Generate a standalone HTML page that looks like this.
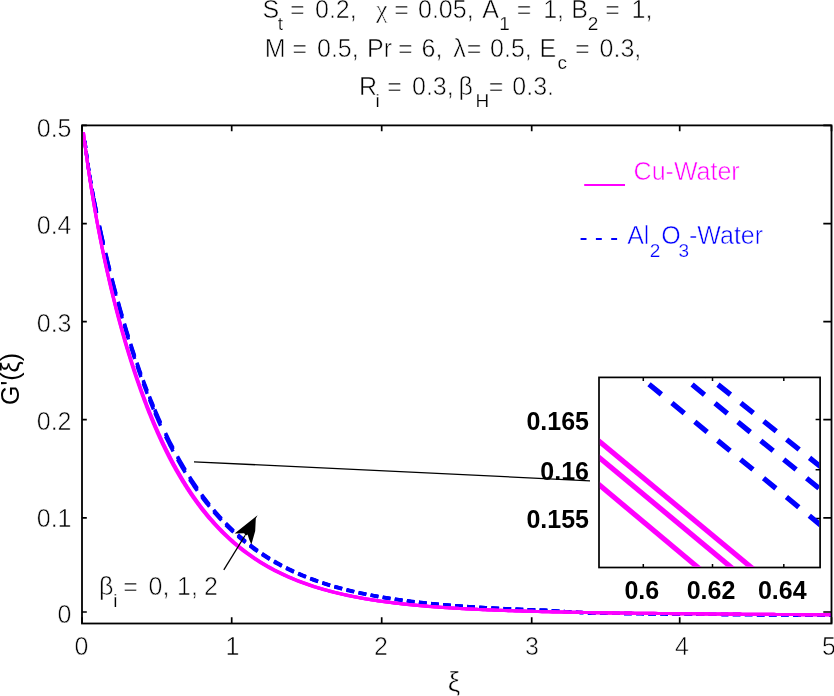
<!DOCTYPE html><html><head><meta charset="utf-8"><style>html,body{margin:0;padding:0;background:#fff;}svg{display:block}</style></head><body><svg width="834" height="696" viewBox="0 0 834 696">
<rect width="834" height="696" fill="#fff"/>
<defs><clipPath id="ax"><rect x="83" y="126.3" width="747.6" height="496.3"/></clipPath><clipPath id="ins"><rect x="599.9" y="378.2" width="219.3" height="188.5"/></clipPath></defs>
<g clip-path="url(#ax)" fill="none" stroke-linecap="butt" stroke-linejoin="round">
<path d="M84.88,141.10 L85.05,142.60 L85.22,144.06 L85.38,145.50 L85.55,146.91 L85.72,148.30M86.12,151.58 L86.31,153.09 L86.50,154.58 L86.70,156.04 L86.89,157.47 L87.08,158.88M87.71,163.35 L87.94,164.98 L88.18,166.59 L88.42,168.16 L88.66,169.72 L88.89,171.24M89.58,175.57 L89.87,177.33 L90.16,179.06 L90.44,180.78 L90.73,182.46 L91.02,184.13M92.02,189.74 L92.33,191.47 L92.64,193.17 L92.96,194.86 L93.27,196.53 L93.58,198.19M93.82,199.40 L94.37,202.27 L94.92,205.10 L95.48,207.89 L96.03,210.65 L96.58,213.37M99.45,227.04 L100.25,230.74 L101.05,234.39 L101.85,238.00 L102.65,241.57 L103.45,245.11M105.70,254.85 L106.50,258.24 L107.30,261.60 L108.10,264.93 L108.90,268.23 L109.70,271.49M111.95,280.49 L112.75,283.64 L113.55,286.75 L114.35,289.83 L115.15,292.89 L115.95,295.91M118.20,304.26 L119.00,307.17 L119.80,310.06 L120.60,312.92 L121.40,315.75 L122.20,318.56M124.45,326.30 L125.25,329.01 L126.05,331.68 L126.85,334.34 L127.65,336.96 L128.45,339.56M130.70,346.75 L131.50,349.26 L132.30,351.74 L133.10,354.20 L133.90,356.64 L134.70,359.06M136.95,365.72 L137.75,368.05 L138.55,370.35 L139.35,372.64 L140.15,374.90 L140.95,377.14M143.20,383.32 L144.00,385.48 L144.80,387.62 L145.60,389.74 L146.40,391.84 L147.20,393.92M149.45,399.66 L150.25,401.66 L151.05,403.64 L151.85,405.61 L152.65,407.56 L153.45,409.48M154.84,412.80 L155.99,415.48 L157.13,418.12 L158.27,420.72 L159.41,423.29 L160.56,425.82M165.51,436.43 L167.03,439.54 L168.54,442.60 L170.06,445.61 L171.57,448.56 L173.09,451.44M177.51,459.50 L179.05,462.22 L180.60,464.89 L182.14,467.52 L183.69,470.09 L185.23,472.62M189.58,479.50 L191.12,481.86 L192.67,484.17 L194.21,486.45 L195.76,488.68 L197.30,490.88M201.65,496.84 L203.19,498.88 L204.74,500.89 L206.28,502.87 L207.83,504.81 L209.37,506.71M213.72,511.88 L215.26,513.66 L216.81,515.40 L218.35,517.11 L219.90,518.79 L221.44,520.44M225.79,524.93 L227.33,526.47 L228.88,527.98 L230.42,529.47 L231.97,530.93 L233.51,532.36M237.86,536.26 L239.40,537.59 L240.95,538.91 L242.49,540.20 L244.04,541.46 L245.58,542.71M249.93,546.09 L251.47,547.25 L253.02,548.39 L254.56,549.51 L256.11,550.61 L257.65,551.69M262.00,554.62 L263.54,555.63 L265.09,556.62 L266.63,557.60 L268.18,558.55 L269.72,559.49M274.07,562.04 L275.61,562.92 L277.16,563.78 L278.70,564.62 L280.25,565.45 L281.79,566.27M286.14,568.48 L287.68,569.25 L289.23,569.99 L290.77,570.73 L292.32,571.45 L293.86,572.16M298.21,574.09 L299.75,574.75 L301.30,575.40 L302.84,576.04 L304.39,576.67 L305.93,577.28M310.28,578.96 L311.82,579.53 L313.37,580.10 L314.91,580.66 L316.46,581.20 L318.00,581.74M322.35,583.20 L323.89,583.70 L325.44,584.19 L326.98,584.68 L328.53,585.15 L330.07,585.62M334.42,586.89 L335.96,587.33 L337.51,587.76 L339.05,588.18 L340.60,588.59 L342.14,589.00M346.49,590.11 L348.03,590.49 L349.58,590.86 L351.12,591.23 L352.67,591.59 L354.21,591.95M358.56,592.91 L360.10,593.25 L361.65,593.57 L363.19,593.89 L364.74,594.21 L366.28,594.52M370.63,595.36 L372.17,595.65 L373.72,595.94 L375.26,596.22 L376.81,596.49 L378.35,596.77M382.70,597.50 L384.24,597.76 L385.79,598.01 L387.33,598.25 L388.88,598.49 L390.42,598.73M394.77,599.37 L396.31,599.60 L397.86,599.81 L399.40,600.03 L400.95,600.24 L402.49,600.45M406.84,601.01 L408.38,601.21 L409.93,601.40 L411.47,601.59 L413.02,601.77 L414.56,601.95M418.91,602.45 L420.45,602.62 L422.00,602.79 L423.54,602.95 L425.09,603.11 L426.63,603.27M430.98,603.71 L432.52,603.86 L434.07,604.01 L435.61,604.15 L437.16,604.29 L438.70,604.43M443.05,604.82 L444.59,604.95 L446.14,605.08 L447.68,605.21 L449.23,605.33 L450.77,605.46M455.12,605.79 L456.66,605.91 L458.21,606.03 L459.75,606.14 L461.30,606.25 L462.84,606.36M467.19,606.66 L468.73,606.76 L470.28,606.86 L471.82,606.96 L473.37,607.06 L474.91,607.15M479.26,607.42 L480.80,607.51 L482.35,607.60 L483.89,607.69 L485.44,607.77 L486.98,607.86M491.33,608.09 L492.87,608.17 L494.42,608.25 L495.96,608.33 L497.51,608.41 L499.05,608.49M503.40,608.69 L504.94,608.77 L506.49,608.84 L508.03,608.91 L509.58,608.98 L511.12,609.04M515.47,609.23 L517.01,609.29 L518.56,609.36 L520.10,609.42 L521.65,609.48 L523.19,609.54M527.54,609.71 L529.08,609.76 L530.63,609.82 L532.17,609.88 L533.72,609.93 L535.26,609.98M539.61,610.13 L541.15,610.18 L542.70,610.24 L544.24,610.29 L545.79,610.37 L547.33,610.48M551.68,610.78 L553.22,610.88 L554.77,610.98 L556.31,611.08 L557.86,611.18 L559.40,611.28M563.75,611.55 L565.29,611.65 L566.84,611.74 L568.38,611.83 L569.93,611.92 L571.47,612.01M575.82,612.25 L577.36,612.33 L578.91,612.42 L580.45,612.50 L582.00,612.58 L583.54,612.66M587.89,612.88 L589.43,612.96 L590.98,613.00 L592.52,613.02 L594.07,613.05 L595.61,613.07M599.96,613.14 L601.50,613.16 L603.05,613.18 L604.59,613.20 L606.14,613.23 L607.68,613.25M612.03,613.31 L613.57,613.33 L615.12,613.35 L616.66,613.37 L618.21,613.39 L619.75,613.41M624.10,613.47 L625.64,613.49 L627.19,613.50 L628.73,613.52 L630.28,613.54 L631.82,613.56M636.17,613.61 L637.71,613.63 L639.26,613.65 L640.80,613.67 L642.35,613.68 L643.89,613.70M648.24,613.75 L649.78,613.77 L651.33,613.78 L652.87,613.80 L654.42,613.81 L655.96,613.83M660.31,613.88 L661.85,613.89 L663.40,613.91 L664.94,613.92 L666.49,613.94 L668.03,613.95M672.38,613.99 L673.92,614.01 L675.47,614.02 L677.01,614.04 L678.56,614.05 L680.10,614.07M684.45,614.11 L685.99,614.12 L687.54,614.14 L689.08,614.15 L690.63,614.16 L692.17,614.18M696.52,614.21 L698.06,614.23 L699.61,614.24 L701.15,614.25 L702.70,614.27 L704.24,614.28M708.59,614.32 L710.13,614.33 L711.68,614.34 L713.22,614.35 L714.77,614.37 L716.31,614.38M720.66,614.41 L722.20,614.43 L723.75,614.44 L725.29,614.45 L726.84,614.46 L728.38,614.48M732.73,614.51 L734.27,614.52 L735.82,614.53 L737.36,614.54 L738.91,614.56 L740.45,614.57M744.80,614.60 L746.34,614.61 L747.89,614.62 L749.43,614.64 L750.98,614.65 L752.52,614.66M756.87,614.69 L758.41,614.70 L759.96,614.71 L761.50,614.72 L763.05,614.73 L764.59,614.75M768.94,614.78 L770.48,614.79 L772.03,614.80 L773.57,614.81 L775.12,614.82 L776.66,614.83M781.01,614.86 L782.55,614.87 L784.10,614.88 L785.64,614.89 L787.19,614.90 L788.73,614.91M793.08,614.94 L794.62,614.95 L796.17,614.96 L797.71,614.97 L799.26,614.98 L800.80,614.99M805.15,615.02 L806.69,615.03 L808.24,615.04 L809.78,615.05 L811.33,615.06 L812.87,615.07M817.22,615.10 L818.76,615.11 L820.31,615.12 L821.85,615.13 L823.40,615.14 L824.94,615.15M829.29,615.18 L830.83,615.19 L832.38,615.20 L833.92,615.21 L835.47,615.22 L837.01,615.23M841.36,615.26 L842.90,615.27 L844.45,615.28 L845.99,615.29 L847.54,615.30 L849.08,615.31" stroke="#0000ff" stroke-width="3.4"/>
<path d="M84.88,140.91 L85.05,142.39 L85.22,143.84 L85.38,145.27 L85.55,146.67 L85.72,148.05M86.12,151.30 L86.31,152.80 L86.50,154.28 L86.70,155.72 L86.89,157.15 L87.08,158.55M87.71,162.98 L87.94,164.60 L88.18,166.19 L88.42,167.75 L88.66,169.29 L88.89,170.80M89.58,175.09 L89.87,176.83 L90.16,178.55 L90.44,180.25 L90.73,181.92 L91.02,183.57M92.02,189.13 L92.33,190.83 L92.64,192.52 L92.96,194.19 L93.27,195.85 L93.58,197.49M93.82,198.69 L94.37,201.53 L94.92,204.33 L95.48,207.10 L96.03,209.83 L96.58,212.53M99.45,226.06 L100.25,229.72 L101.05,233.34 L101.85,236.92 L102.65,240.46 L103.45,243.96M105.70,253.61 L106.50,256.98 L107.30,260.31 L108.10,263.61 L108.90,266.87 L109.70,270.11M111.95,279.04 L112.75,282.16 L113.55,285.25 L114.35,288.31 L115.15,291.34 L115.95,294.34M118.20,302.63 L119.00,305.52 L119.80,308.39 L120.60,311.23 L121.40,314.04 L122.20,316.83M124.45,324.52 L125.25,327.21 L126.05,329.87 L126.85,332.51 L127.65,335.12 L128.45,337.71M130.70,344.85 L131.50,347.35 L132.30,349.82 L133.10,352.27 L133.90,354.69 L134.70,357.10M136.95,363.73 L137.75,366.05 L138.55,368.34 L139.35,370.62 L140.15,372.87 L140.95,375.10M143.20,381.26 L144.00,383.41 L144.80,385.55 L145.60,387.66 L146.40,389.75 L147.20,391.82M149.45,397.54 L150.25,399.54 L151.05,401.52 L151.85,403.48 L152.65,405.42 L153.45,407.35M154.84,410.66 L155.99,413.33 L157.13,415.96 L158.27,418.56 L159.41,421.13 L160.56,423.66M165.51,434.25 L167.03,437.37 L168.54,440.43 L170.06,443.43 L171.57,446.39 L173.09,449.29M177.51,457.46 L179.05,460.22 L180.60,462.92 L182.14,465.58 L183.69,468.19 L185.23,470.76M189.58,477.72 L191.12,480.11 L192.67,482.46 L194.21,484.76 L195.76,487.03 L197.30,489.25M201.65,495.29 L203.19,497.36 L204.74,499.40 L206.28,501.40 L207.83,503.36 L209.37,505.29M213.72,510.53 L215.26,512.33 L216.81,514.09 L218.35,515.83 L219.90,517.53 L221.44,519.20M225.79,523.75 L227.33,525.31 L228.88,526.84 L230.42,528.35 L231.97,529.83 L233.51,531.28M237.86,535.23 L239.40,536.58 L240.95,537.91 L242.49,539.22 L244.04,540.50 L245.58,541.76M249.93,545.19 L251.47,546.36 L253.02,547.52 L254.56,548.65 L256.11,549.77 L257.65,550.86M262.00,553.84 L263.54,554.86 L265.09,555.86 L266.63,556.85 L268.18,557.81 L269.72,558.77M274.07,561.35 L275.61,562.24 L277.16,563.11 L278.70,563.97 L280.25,564.81 L281.79,565.63M286.14,567.88 L287.68,568.65 L289.23,569.41 L290.77,570.15 L292.32,570.88 L293.86,571.60M298.21,573.55 L299.75,574.22 L301.30,574.88 L302.84,575.53 L304.39,576.17 L305.93,576.79M310.28,578.49 L311.82,579.07 L313.37,579.65 L314.91,580.21 L316.46,580.76 L318.00,581.31M322.35,582.79 L323.89,583.29 L325.44,583.79 L326.98,584.28 L328.53,584.77 L330.07,585.24M334.42,586.53 L335.96,586.97 L337.51,587.41 L339.05,587.83 L340.60,588.25 L342.14,588.66M346.49,589.79 L348.03,590.17 L349.58,590.55 L351.12,590.93 L352.67,591.29 L354.21,591.65M358.56,592.63 L360.10,592.97 L361.65,593.30 L363.19,593.62 L364.74,593.94 L366.28,594.26M370.63,595.11 L372.17,595.41 L373.72,595.69 L375.26,595.98 L376.81,596.26 L378.35,596.53M382.70,597.28 L384.24,597.54 L385.79,597.79 L387.33,598.04 L388.88,598.28 L390.42,598.52M394.77,599.17 L396.31,599.40 L397.86,599.62 L399.40,599.84 L400.95,600.05 L402.49,600.26M406.84,600.83 L408.38,601.03 L409.93,601.22 L411.47,601.42 L413.02,601.60 L414.56,601.79M418.91,602.29 L420.45,602.46 L422.00,602.63 L423.54,602.80 L425.09,602.96 L426.63,603.13M430.98,603.57 L432.52,603.72 L434.07,603.87 L435.61,604.02 L437.16,604.16 L438.70,604.30M443.05,604.69 L444.59,604.82 L446.14,604.96 L447.68,605.08 L449.23,605.21 L450.77,605.34M455.12,605.68 L456.66,605.80 L458.21,605.91 L459.75,606.03 L461.30,606.14 L462.84,606.25M467.19,606.55 L468.73,606.66 L470.28,606.76 L471.82,606.86 L473.37,606.96 L474.91,607.06M479.26,607.33 L480.80,607.42 L482.35,607.51 L483.89,607.60 L485.44,607.69 L486.98,607.77M491.33,608.01 L492.87,608.09 L494.42,608.17 L495.96,608.25 L497.51,608.33 L499.05,608.41M503.40,608.62 L504.94,608.69 L506.49,608.76 L508.03,608.83 L509.58,608.90 L511.12,608.97M515.47,609.16 L517.01,609.22 L518.56,609.29 L520.10,609.35 L521.65,609.41 L523.19,609.47M527.54,609.64 L529.08,609.70 L530.63,609.76 L532.17,609.81 L533.72,609.87 L535.26,609.93M539.61,610.08 L541.15,610.13 L542.70,610.18 L544.24,610.23 L545.79,610.31 L547.33,610.42M551.68,610.73 L553.22,610.83 L554.77,610.94 L556.31,611.04 L557.86,611.14 L559.40,611.24M563.75,611.51 L565.29,611.61 L566.84,611.70 L568.38,611.79 L569.93,611.88 L571.47,611.97M575.82,612.22 L577.36,612.31 L578.91,612.39 L580.45,612.47 L582.00,612.55 L583.54,612.64M587.89,612.86 L589.43,612.94 L590.98,612.98 L592.52,613.00 L594.07,613.03 L595.61,613.05M599.96,613.12 L601.50,613.14 L603.05,613.16 L604.59,613.19 L606.14,613.21 L607.68,613.23M612.03,613.29 L613.57,613.31 L615.12,613.34 L616.66,613.36 L618.21,613.38 L619.75,613.40M624.10,613.45 L625.64,613.47 L627.19,613.49 L628.73,613.51 L630.28,613.53 L631.82,613.55M636.17,613.60 L637.71,613.62 L639.26,613.64 L640.80,613.65 L642.35,613.67 L643.89,613.69M648.24,613.74 L649.78,613.76 L651.33,613.77 L652.87,613.79 L654.42,613.81 L655.96,613.82M660.31,613.87 L661.85,613.88 L663.40,613.90 L664.94,613.91 L666.49,613.93 L668.03,613.95M672.38,613.99 L673.92,614.00 L675.47,614.02 L677.01,614.03 L678.56,614.05 L680.10,614.06M684.45,614.10 L685.99,614.12 L687.54,614.13 L689.08,614.14 L690.63,614.16 L692.17,614.17M696.52,614.21 L698.06,614.22 L699.61,614.24 L701.15,614.25 L702.70,614.26 L704.24,614.28M708.59,614.31 L710.13,614.33 L711.68,614.34 L713.22,614.35 L714.77,614.37 L716.31,614.38M720.66,614.41 L722.20,614.43 L723.75,614.44 L725.29,614.45 L726.84,614.46 L728.38,614.48M732.73,614.51 L734.27,614.52 L735.82,614.53 L737.36,614.54 L738.91,614.56 L740.45,614.57M744.80,614.60 L746.34,614.61 L747.89,614.62 L749.43,614.64 L750.98,614.65 L752.52,614.66M756.87,614.69 L758.41,614.70 L759.96,614.71 L761.50,614.72 L763.05,614.73 L764.59,614.75M768.94,614.78 L770.48,614.79 L772.03,614.80 L773.57,614.81 L775.12,614.82 L776.66,614.83M781.01,614.86 L782.55,614.87 L784.10,614.88 L785.64,614.89 L787.19,614.90 L788.73,614.91M793.08,614.94 L794.62,614.95 L796.17,614.96 L797.71,614.97 L799.26,614.98 L800.80,614.99M805.15,615.02 L806.69,615.03 L808.24,615.04 L809.78,615.05 L811.33,615.06 L812.87,615.07M817.22,615.10 L818.76,615.11 L820.31,615.12 L821.85,615.13 L823.40,615.14 L824.94,615.15M829.29,615.18 L830.83,615.19 L832.38,615.20 L833.92,615.21 L835.47,615.22 L837.01,615.23M841.36,615.26 L842.90,615.27 L844.45,615.28 L845.99,615.29 L847.54,615.30 L849.08,615.31" stroke="#0000ff" stroke-width="3.4"/>
<path d="M84.88,140.79 L85.05,142.27 L85.22,143.72 L85.38,145.14 L85.55,146.53 L85.72,147.91M86.12,151.14 L86.31,152.64 L86.50,154.10 L86.70,155.54 L86.89,156.96 L87.08,158.36M87.71,162.76 L87.94,164.37 L88.18,165.95 L88.42,167.51 L88.66,169.04 L88.89,170.55M89.58,174.81 L89.87,176.55 L90.16,178.25 L90.44,179.94 L90.73,181.60 L91.02,183.24M92.02,188.77 L92.33,190.47 L92.64,192.15 L92.96,193.81 L93.27,195.46 L93.58,197.09M93.82,198.28 L94.37,201.11 L94.92,203.89 L95.48,206.64 L96.03,209.35 L96.58,212.04M99.45,225.49 L100.25,229.14 L101.05,232.74 L101.85,236.30 L102.65,239.82 L103.45,243.30M105.70,252.90 L106.50,256.25 L107.30,259.56 L108.10,262.84 L108.90,266.10 L109.70,269.31M111.95,278.21 L112.75,281.31 L113.55,284.38 L114.35,287.43 L115.15,290.45 L115.95,293.43M118.20,301.69 L119.00,304.57 L119.80,307.42 L120.60,310.25 L121.40,313.05 L122.20,315.83M124.45,323.50 L125.25,326.17 L126.05,328.83 L126.85,331.45 L127.65,334.06 L128.45,336.64M130.70,343.76 L131.50,346.25 L132.30,348.71 L133.10,351.15 L133.90,353.57 L134.70,355.97M136.95,362.58 L137.75,364.89 L138.55,367.18 L139.35,369.45 L140.15,371.70 L140.95,373.92M143.20,380.07 L144.00,382.22 L144.80,384.35 L145.60,386.45 L146.40,388.54 L147.20,390.61M149.45,396.32 L150.25,398.32 L151.05,400.29 L151.85,402.25 L152.65,404.19 L153.45,406.11M154.84,409.42 L155.99,412.09 L157.13,414.72 L158.27,417.32 L159.41,419.88 L160.56,422.41M165.51,433.00 L167.03,436.11 L168.54,439.17 L170.06,442.18 L171.57,445.13 L173.09,448.05M177.51,456.28 L179.05,459.06 L180.60,461.79 L182.14,464.47 L183.69,467.09 L185.23,469.68M189.58,476.69 L191.12,479.10 L192.67,481.47 L194.21,483.79 L195.76,486.07 L197.30,488.31M201.65,494.39 L203.19,496.48 L204.74,498.53 L206.28,500.55 L207.83,502.53 L209.37,504.47M213.72,509.75 L215.26,511.56 L216.81,513.34 L218.35,515.09 L219.90,516.80 L221.44,518.49M225.79,523.07 L227.33,524.64 L228.88,526.19 L230.42,527.70 L231.97,529.19 L233.51,530.66M237.86,534.63 L239.40,536.00 L240.95,537.34 L242.49,538.65 L244.04,539.95 L245.58,541.22M249.93,544.67 L251.47,545.85 L253.02,547.02 L254.56,548.16 L256.11,549.28 L257.65,550.38M262.00,553.38 L263.54,554.41 L265.09,555.42 L266.63,556.41 L268.18,557.39 L269.72,558.35M274.07,560.95 L275.61,561.84 L277.16,562.72 L278.70,563.59 L280.25,564.43 L281.79,565.27M286.14,567.53 L287.68,568.31 L289.23,569.07 L290.77,569.82 L292.32,570.56 L293.86,571.28M298.21,573.25 L299.75,573.92 L301.30,574.59 L302.84,575.24 L304.39,575.88 L305.93,576.51M310.28,578.22 L311.82,578.81 L313.37,579.39 L314.91,579.95 L316.46,580.51 L318.00,581.06M322.35,582.55 L323.89,583.06 L325.44,583.56 L326.98,584.06 L328.53,584.54 L330.07,585.02M334.42,586.32 L335.96,586.76 L337.51,587.20 L339.05,587.63 L340.60,588.06 L342.14,588.47M346.49,589.60 L348.03,589.99 L349.58,590.37 L351.12,590.75 L352.67,591.12 L354.21,591.48M358.56,592.47 L360.10,592.81 L361.65,593.14 L363.19,593.47 L364.74,593.79 L366.28,594.10M370.63,594.97 L372.17,595.26 L373.72,595.55 L375.26,595.84 L376.81,596.12 L378.35,596.40M382.70,597.15 L384.24,597.41 L385.79,597.66 L387.33,597.91 L388.88,598.16 L390.42,598.40M394.77,599.06 L396.31,599.29 L397.86,599.51 L399.40,599.73 L400.95,599.94 L402.49,600.15M406.84,600.73 L408.38,600.93 L409.93,601.13 L411.47,601.32 L413.02,601.51 L414.56,601.69M418.91,602.20 L420.45,602.37 L422.00,602.54 L423.54,602.71 L425.09,602.88 L426.63,603.04M430.98,603.48 L432.52,603.64 L434.07,603.79 L435.61,603.94 L437.16,604.08 L438.70,604.23M443.05,604.62 L444.59,604.75 L446.14,604.88 L447.68,605.01 L449.23,605.14 L450.77,605.27M455.12,605.61 L456.66,605.73 L458.21,605.85 L459.75,605.96 L461.30,606.08 L462.84,606.19M467.19,606.49 L468.73,606.60 L470.28,606.70 L471.82,606.80 L473.37,606.90 L474.91,607.00M479.26,607.27 L480.80,607.36 L482.35,607.46 L483.89,607.55 L485.44,607.63 L486.98,607.72M491.33,607.96 L492.87,608.04 L494.42,608.12 L495.96,608.20 L497.51,608.28 L499.05,608.36M503.40,608.57 L504.94,608.65 L506.49,608.72 L508.03,608.79 L509.58,608.86 L511.12,608.93M515.47,609.12 L517.01,609.18 L518.56,609.25 L520.10,609.31 L521.65,609.38 L523.19,609.44M527.54,609.61 L529.08,609.66 L530.63,609.72 L532.17,609.78 L533.72,609.84 L535.26,609.89M539.61,610.04 L541.15,610.10 L542.70,610.15 L544.24,610.20 L545.79,610.28 L547.33,610.39M551.68,610.70 L553.22,610.81 L554.77,610.91 L556.31,611.01 L557.86,611.12 L559.40,611.22M563.75,611.49 L565.29,611.59 L566.84,611.68 L568.38,611.77 L569.93,611.86 L571.47,611.95M575.82,612.20 L577.36,612.29 L578.91,612.37 L580.45,612.46 L582.00,612.54 L583.54,612.62M587.89,612.85 L589.43,612.92 L590.98,612.97 L592.52,612.99 L594.07,613.02 L595.61,613.04M599.96,613.11 L601.50,613.13 L603.05,613.15 L604.59,613.18 L606.14,613.20 L607.68,613.22M612.03,613.28 L613.57,613.31 L615.12,613.33 L616.66,613.35 L618.21,613.37 L619.75,613.39M624.10,613.45 L625.64,613.46 L627.19,613.48 L628.73,613.50 L630.28,613.52 L631.82,613.54M636.17,613.59 L637.71,613.61 L639.26,613.63 L640.80,613.65 L642.35,613.67 L643.89,613.68M648.24,613.73 L649.78,613.75 L651.33,613.77 L652.87,613.78 L654.42,613.80 L655.96,613.82M660.31,613.86 L661.85,613.88 L663.40,613.89 L664.94,613.91 L666.49,613.93 L668.03,613.94M672.38,613.98 L673.92,614.00 L675.47,614.01 L677.01,614.03 L678.56,614.04 L680.10,614.06M684.45,614.10 L685.99,614.11 L687.54,614.13 L689.08,614.14 L690.63,614.16 L692.17,614.17M696.52,614.21 L698.06,614.22 L699.61,614.24 L701.15,614.25 L702.70,614.26 L704.24,614.28M708.59,614.31 L710.13,614.33 L711.68,614.34 L713.22,614.35 L714.77,614.36 L716.31,614.38M720.66,614.41 L722.20,614.43 L723.75,614.44 L725.29,614.45 L726.84,614.46 L728.38,614.47M732.73,614.51 L734.27,614.52 L735.82,614.53 L737.36,614.54 L738.91,614.56 L740.45,614.57M744.80,614.60 L746.34,614.61 L747.89,614.62 L749.43,614.64 L750.98,614.65 L752.52,614.66M756.87,614.69 L758.41,614.70 L759.96,614.71 L761.50,614.72 L763.05,614.73 L764.59,614.75M768.94,614.78 L770.48,614.79 L772.03,614.80 L773.57,614.81 L775.12,614.82 L776.66,614.83M781.01,614.86 L782.55,614.87 L784.10,614.88 L785.64,614.89 L787.19,614.90 L788.73,614.91M793.08,614.94 L794.62,614.95 L796.17,614.96 L797.71,614.97 L799.26,614.98 L800.80,614.99M805.15,615.02 L806.69,615.03 L808.24,615.04 L809.78,615.05 L811.33,615.06 L812.87,615.07M817.22,615.10 L818.76,615.11 L820.31,615.12 L821.85,615.13 L823.40,615.14 L824.94,615.15M829.29,615.18 L830.83,615.19 L832.38,615.20 L833.92,615.21 L835.47,615.22 L837.01,615.23M841.36,615.26 L842.90,615.27 L844.45,615.28 L845.99,615.29 L847.54,615.30 L849.08,615.31" stroke="#0000ff" stroke-width="3.4"/>
<path d="M83.40,132.21 L83.69,134.59 L83.98,136.95 L84.28,139.29 L84.57,141.59 L84.86,143.88 L85.15,146.13 L85.45,148.37 L85.74,150.57 L86.03,152.76 L86.32,154.93 L86.61,157.07 L86.91,159.19 L87.20,161.29 L87.49,163.37 L87.78,165.42 L88.08,167.46 L88.37,169.48 L88.66,171.48 L88.95,173.47 L89.24,175.43 L89.54,177.38 L89.83,179.31 L90.12,181.22 L90.41,183.12 L90.71,185.00 L91.00,186.86 L91.29,188.71 L91.58,190.55 L91.87,192.36 L92.17,194.17 L92.46,195.96 L92.75,197.74 L93.04,199.50 L93.34,201.25 L93.63,202.98 L93.92,204.70 L94.21,206.41 L94.50,208.11 L94.80,209.80 L95.09,211.47 L95.38,213.13 L95.67,214.78 L95.97,216.42 L96.26,218.05 L96.55,219.66 L96.84,221.27 L97.13,222.86 L97.43,224.45 L97.72,226.02 L98.01,227.58 L98.30,229.14 L98.60,230.68 L98.89,232.22 L99.18,233.74 L99.47,235.26 L99.76,236.76 L100.06,238.26 L100.35,239.75 L100.64,241.23 L100.93,242.70 L101.23,244.16 L101.52,245.62 L101.81,247.06 L102.10,248.50 L102.39,249.93 L102.69,251.35 L102.98,252.77 L103.27,254.17 L103.56,255.57 L103.86,256.96 L104.15,258.35 L104.44,259.72 L104.73,261.09 L105.03,262.45 L105.32,263.81 L105.61,265.16 L105.90,266.50 L106.19,267.83 L106.49,269.16 L106.78,270.48 L107.07,271.80 L107.36,273.10 L107.66,274.40 L107.95,275.70 L108.24,276.99 L108.53,278.27 L108.82,279.55 L109.12,280.82 L109.41,282.08 L109.70,283.34 L109.99,284.60 L110.29,285.84 L110.58,287.08 L110.87,288.32 L111.16,289.55 L111.45,290.77 L111.75,291.99 L112.04,293.20 L112.33,294.41 L112.62,295.61 L112.92,296.81 L113.21,298.00 L113.50,299.19 L113.79,300.37 L114.08,301.55 L114.38,302.72 L114.67,303.88 L114.96,305.04 L115.25,306.20 L115.55,307.35 L115.84,308.50 L116.13,309.64 L116.42,310.77 L116.71,311.90 L117.01,313.03 L117.30,314.15 L117.59,315.27 L117.88,316.38 L118.18,317.49 L118.47,318.59 L118.76,319.69 L119.05,320.78 L119.34,321.87 L119.64,322.96 L119.93,324.04 L120.22,325.11 L120.51,326.19 L120.81,327.25 L121.10,328.32 L121.39,329.37 L121.68,330.43 L121.97,331.48 L122.27,332.53 L122.56,333.57 L122.85,334.60 L123.14,335.64 L123.44,336.67 L123.73,337.69 L124.02,338.71 L124.31,339.73 L124.60,340.74 L124.90,341.75 L125.19,342.76 L125.48,343.76 L125.77,344.76 L126.07,345.75 L126.36,346.74 L126.65,347.72 L126.94,348.70 L127.23,349.68 L127.53,350.66 L127.82,351.63 L128.11,352.59 L128.40,353.56 L128.70,354.51 L128.99,355.47 L129.28,356.42 L129.57,357.37 L129.86,358.31 L130.16,359.25 L130.45,360.19 L130.74,361.12 L131.03,362.05 L131.33,362.98 L131.62,363.90 L131.91,364.82 L132.20,365.74 L132.49,366.65 L132.79,367.56 L133.08,368.46 L133.37,369.36 L133.66,370.26 L133.96,371.15 L134.25,372.05 L134.54,372.93 L134.83,373.82 L135.12,374.70 L135.42,375.58 L135.71,376.45 L136.00,377.32 L136.29,378.19 L136.59,379.06 L136.88,379.92 L137.17,380.77 L137.46,381.63 L137.75,382.48 L138.05,383.33 L138.34,384.17 L138.63,385.02 L138.92,385.86 L139.22,386.69 L139.51,387.52 L139.80,388.35 L140.09,389.18 L140.38,390.00 L140.68,390.82 L140.97,391.64 L141.26,392.45 L141.55,393.26 L141.85,394.07 L142.14,394.88 L142.43,395.68 L142.72,396.48 L143.02,397.27 L143.31,398.07 L143.60,398.86 L143.89,399.64 L144.18,400.43 L144.48,401.21 L144.77,401.98 L145.06,402.76 L145.35,403.53 L145.65,404.30 L145.94,405.07 L146.23,405.83 L146.52,406.59 L146.81,407.35 L147.11,408.11 L147.40,408.86 L147.69,409.61 L147.98,410.35 L148.28,411.10 L148.57,411.84 L148.86,412.58 L149.15,413.31 L149.44,414.05 L149.74,414.78 L150.03,415.50 L150.32,416.23 L150.61,416.95 L150.91,417.67 L151.20,418.39 L151.49,419.10 L151.78,419.81 L152.07,420.52 L152.37,421.23 L152.66,421.93 L152.95,422.63 L153.24,423.33 L153.54,424.03 L153.83,424.72 L154.12,425.41 L154.41,426.10 L154.70,426.78 L155.00,427.47 L155.29,428.15 L155.58,428.82 L155.87,429.50 L156.17,430.17 L156.46,430.84 L156.75,431.51 L157.04,432.17 L157.33,432.84 L157.63,433.50 L157.92,434.16 L158.21,434.81 L158.50,435.46 L158.80,436.12 L159.09,436.76 L159.38,437.41 L159.67,438.05 L159.96,438.69 L160.26,439.33 L160.55,439.97 L160.84,440.60 L161.13,441.23 L161.43,441.86 L161.72,442.49 L162.01,443.12 L162.30,443.74 L162.59,444.36 L162.89,444.98 L163.18,445.59 L163.47,446.20 L163.76,446.82 L164.06,447.42 L164.35,448.03 L164.64,448.63 L164.93,449.24 L165.22,449.84 L165.52,450.43 L165.81,451.03 L166.10,451.62 L166.39,452.21 L166.69,452.80 L166.98,453.39 L167.27,453.97 L167.56,454.55 L167.85,455.13 L168.15,455.71 L168.44,456.29 L168.73,456.86 L169.02,457.43 L169.32,458.00 L169.61,458.57 L169.90,459.14 L170.19,459.70 L170.48,460.26 L170.78,460.82 L171.07,461.38 L171.36,461.93 L171.65,462.48 L171.95,463.03 L172.24,463.58 L172.53,464.12 L172.82,464.66 L173.11,465.20 L173.41,465.73 L173.70,466.26 L173.99,466.80 L174.28,467.33 L174.58,467.85 L174.87,468.38 L175.16,468.90 L175.45,469.42 L175.74,469.94 L176.04,470.46 L176.33,470.98 L176.62,471.49 L176.91,472.01 L177.21,472.52 L177.50,473.02 L177.79,473.53 L178.08,474.04 L178.37,474.54 L178.67,475.04 L178.96,475.54 L179.25,476.04 L179.54,476.53 L179.84,477.03 L180.13,477.52 L180.42,478.01 L180.71,478.50 L181.01,478.98 L181.30,479.47 L181.59,479.95 L181.88,480.43 L182.17,480.91 L182.47,481.39 L182.76,481.87 L183.05,482.34 L183.34,482.81 L183.64,483.28 L183.93,483.75 L184.22,484.22 L184.51,484.69 L184.80,485.15 L185.10,485.61 L185.39,486.07 L185.68,486.53 L185.97,486.99 L186.27,487.45 L186.56,487.90 L186.85,488.35 L187.14,488.80 L187.43,489.25 L187.73,489.70 L188.02,490.15 L188.31,490.59 L188.60,491.03 L188.90,491.47 L189.19,491.91 L189.48,492.35 L189.77,492.79 L190.06,493.22 L190.36,493.65 L190.65,494.09 L190.94,494.51 L191.23,494.94 L191.53,495.37 L191.82,495.79 L192.11,496.22 L192.40,496.64 L192.69,497.06 L192.99,497.48 L193.28,497.90 L193.57,498.31 L193.86,498.73 L194.16,499.14 L194.45,499.55 L194.74,499.96 L195.03,500.37 L195.32,500.78 L195.62,501.18 L195.91,501.59 L196.20,501.99 L196.49,502.39 L196.79,502.79 L197.08,503.19 L197.37,503.58 L197.66,503.98 L197.95,504.37 L198.25,504.76 L198.54,505.15 L198.83,505.54 L199.12,505.93 L199.42,506.32 L199.71,506.70 L200.00,507.09 L200.50,507.74 L202.61,510.45 L204.72,513.09 L206.83,515.66 L208.93,518.16 L211.04,520.60 L213.15,522.98 L215.26,525.29 L217.37,527.55 L219.48,529.74 L221.59,531.88 L223.70,533.96 L225.80,535.99 L227.91,537.96 L230.02,539.89 L232.13,541.76 L234.24,543.59 L236.35,545.37 L238.46,547.10 L240.57,548.79 L242.67,550.43 L244.78,552.03 L246.89,553.59 L249.00,555.11 L251.11,556.59 L253.22,558.03 L255.33,559.43 L257.43,560.80 L259.54,562.13 L261.65,563.43 L263.76,564.69 L265.87,565.92 L267.98,567.12 L270.09,568.29 L272.20,569.43 L274.30,570.54 L276.41,571.61 L278.52,572.67 L280.63,573.69 L282.74,574.69 L284.85,575.66 L286.96,576.61 L289.07,577.53 L291.17,578.43 L293.28,579.31 L295.39,580.16 L297.50,580.99 L299.61,581.81 L301.72,582.59 L303.83,583.36 L305.93,584.11 L308.04,584.84 L310.15,585.55 L312.26,586.25 L314.37,586.92 L316.48,587.58 L318.59,588.22 L320.70,588.85 L322.80,589.46 L324.91,590.05 L327.02,590.63 L329.13,591.19 L331.24,591.74 L333.35,592.28 L335.46,592.80 L337.57,593.31 L339.67,593.80 L341.78,594.28 L343.89,594.75 L346.00,595.21 L348.11,595.66 L350.22,596.09 L352.33,596.52 L354.43,596.93 L356.54,597.34 L358.65,597.73 L360.76,598.11 L362.87,598.49 L364.98,598.85 L367.09,599.20 L369.20,599.55 L371.30,599.89 L373.41,600.22 L375.52,600.54 L377.63,600.85 L379.74,601.15 L381.85,601.45 L383.96,601.74 L386.07,602.02 L388.17,602.30 L390.28,602.57 L392.39,602.83 L394.50,603.09 L396.61,603.34 L398.72,603.58 L400.83,603.82 L402.93,604.05 L405.04,604.27 L407.15,604.49 L409.26,604.71 L411.37,604.92 L413.48,605.12 L415.59,605.32 L417.70,605.51 L419.80,605.70 L421.91,605.89 L424.02,606.07 L426.13,606.25 L428.24,606.42 L430.35,606.59 L432.46,606.75 L434.57,606.91 L436.67,607.07 L438.78,607.22 L440.89,607.37 L443.00,607.51 L445.11,607.65 L447.22,607.79 L449.33,607.93 L451.43,608.06 L453.54,608.19 L455.65,608.31 L457.76,608.44 L459.87,608.56 L461.98,608.67 L464.09,608.79 L466.20,608.90 L468.30,609.01 L470.41,609.12 L472.52,609.22 L474.63,609.32 L476.74,609.42 L478.85,609.52 L480.96,609.62 L483.07,609.71 L485.17,609.80 L487.28,609.89 L489.39,609.98 L491.50,610.06 L493.61,610.15 L495.72,610.23 L497.83,610.31 L499.93,610.38 L502.04,610.46 L504.15,610.54 L506.26,610.61 L508.37,610.68 L510.48,610.75 L512.59,610.82 L514.70,610.89 L516.80,610.95 L518.91,611.02 L521.02,611.08 L523.13,611.14 L525.24,611.20 L527.35,611.26 L529.46,611.32 L531.57,611.37 L533.67,611.43 L535.78,611.48 L537.89,611.54 L540.00,611.59 L542.11,611.64 L544.22,611.69 L546.33,611.74 L548.43,611.79 L550.54,611.84 L552.65,611.88 L554.76,611.93 L556.87,611.97 L558.98,612.02 L561.09,612.06 L563.20,612.10 L565.30,612.15 L567.41,612.19 L569.52,612.23 L571.63,612.27 L573.74,612.31 L575.85,612.34 L577.96,612.38 L580.07,612.42 L582.17,612.45 L584.28,612.49 L586.39,612.53 L588.50,612.56 L590.61,612.59 L592.72,612.63 L594.83,612.66 L596.93,612.69 L599.04,612.72 L601.15,612.76 L603.26,612.79 L605.37,612.82 L607.48,612.85 L609.59,612.88 L611.70,612.91 L613.80,612.93 L615.91,612.96 L618.02,612.99 L620.13,613.02 L622.24,613.05 L624.35,613.07 L626.46,613.10 L628.57,613.12 L630.67,613.15 L632.78,613.18 L634.89,613.20 L637.00,613.22 L639.11,613.25 L641.22,613.27 L643.33,613.30 L645.43,613.32 L647.54,613.34 L649.65,613.37 L651.76,613.39 L653.87,613.41 L655.98,613.43 L658.09,613.46 L660.20,613.48 L662.30,613.50 L664.41,613.52 L666.52,613.54 L668.63,613.56 L670.74,613.58 L672.85,613.60 L674.96,613.62 L677.07,613.64 L679.17,613.66 L681.28,613.68 L683.39,613.70 L685.50,613.72 L687.61,613.74 L689.72,613.76 L691.83,613.78 L693.93,613.80 L696.04,613.81 L698.15,613.83 L700.26,613.85 L702.37,613.87 L704.48,613.89 L706.59,613.90 L708.70,613.92 L710.80,613.94 L712.91,613.96 L715.02,613.97 L717.13,613.99 L719.24,614.01 L721.35,614.02 L723.46,614.04 L725.57,614.06 L727.67,614.07 L729.78,614.09 L731.89,614.11 L734.00,614.12 L736.11,614.14 L738.22,614.15 L740.33,614.17 L742.43,614.19 L744.54,614.20 L746.65,614.22 L748.76,614.23 L750.87,614.25 L752.98,614.26 L755.09,614.28 L757.20,614.29 L759.30,614.31 L761.41,614.32 L763.52,614.34 L765.63,614.35 L767.74,614.37 L769.85,614.38 L771.96,614.40 L774.07,614.41 L776.17,614.43 L778.28,614.44 L780.39,614.46 L782.50,614.47 L784.61,614.49 L786.72,614.50 L788.83,614.51 L790.93,614.53 L793.04,614.54 L795.15,614.56 L797.26,614.57 L799.37,614.59 L801.48,614.60 L803.59,614.61 L805.70,614.63 L807.80,614.64 L809.91,614.65 L812.02,614.67 L814.13,614.68 L816.24,614.70 L818.35,614.71 L820.46,614.72 L822.57,614.74 L824.67,614.75 L826.78,614.76 L828.89,614.78 L831.00,614.79" stroke="#ff00ff" stroke-width="3.1"/>
<path d="M83.40,132.12 L83.69,134.49 L83.98,136.84 L84.28,139.15 L84.57,141.44 L84.86,143.71 L85.15,145.95 L85.45,148.17 L85.74,150.36 L86.03,152.53 L86.32,154.68 L86.61,156.81 L86.91,158.91 L87.20,161.00 L87.49,163.06 L87.78,165.11 L88.08,167.13 L88.37,169.14 L88.66,171.12 L88.95,173.09 L89.24,175.04 L89.54,176.98 L89.83,178.89 L90.12,180.79 L90.41,182.67 L90.71,184.54 L91.00,186.39 L91.29,188.23 L91.58,190.05 L91.87,191.85 L92.17,193.65 L92.46,195.42 L92.75,197.19 L93.04,198.94 L93.34,200.67 L93.63,202.40 L93.92,204.11 L94.21,205.80 L94.50,207.49 L94.80,209.16 L95.09,210.82 L95.38,212.47 L95.67,214.11 L95.97,215.74 L96.26,217.35 L96.55,218.96 L96.84,220.55 L97.13,222.14 L97.43,223.71 L97.72,225.27 L98.01,226.82 L98.30,228.37 L98.60,229.90 L98.89,231.43 L99.18,232.94 L99.47,234.44 L99.76,235.94 L100.06,237.43 L100.35,238.91 L100.64,240.38 L100.93,241.84 L101.23,243.29 L101.52,244.73 L101.81,246.17 L102.10,247.60 L102.39,249.02 L102.69,250.43 L102.98,251.84 L103.27,253.23 L103.56,254.62 L103.86,256.00 L104.15,257.38 L104.44,258.75 L104.73,260.11 L105.03,261.46 L105.32,262.81 L105.61,264.15 L105.90,265.48 L106.19,266.80 L106.49,268.12 L106.78,269.44 L107.07,270.74 L107.36,272.04 L107.66,273.34 L107.95,274.62 L108.24,275.90 L108.53,277.18 L108.82,278.45 L109.12,279.71 L109.41,280.97 L109.70,282.22 L109.99,283.46 L110.29,284.70 L110.58,285.94 L110.87,287.16 L111.16,288.39 L111.45,289.60 L111.75,290.81 L112.04,292.02 L112.33,293.22 L112.62,294.42 L112.92,295.61 L113.21,296.79 L113.50,297.97 L113.79,299.14 L114.08,300.31 L114.38,301.48 L114.67,302.64 L114.96,303.79 L115.25,304.94 L115.55,306.08 L115.84,307.22 L116.13,308.36 L116.42,309.49 L116.71,310.61 L117.01,311.73 L117.30,312.85 L117.59,313.96 L117.88,315.07 L118.18,316.17 L118.47,317.27 L118.76,318.36 L119.05,319.45 L119.34,320.53 L119.64,321.61 L119.93,322.69 L120.22,323.76 L120.51,324.82 L120.81,325.88 L121.10,326.94 L121.39,328.00 L121.68,329.04 L121.97,330.09 L122.27,331.13 L122.56,332.17 L122.85,333.20 L123.14,334.23 L123.44,335.25 L123.73,336.27 L124.02,337.29 L124.31,338.30 L124.60,339.31 L124.90,340.31 L125.19,341.32 L125.48,342.31 L125.77,343.30 L126.07,344.29 L126.36,345.28 L126.65,346.26 L126.94,347.24 L127.23,348.21 L127.53,349.18 L127.82,350.15 L128.11,351.11 L128.40,352.07 L128.70,353.02 L128.99,353.97 L129.28,354.92 L129.57,355.86 L129.86,356.80 L130.16,357.74 L130.45,358.67 L130.74,359.60 L131.03,360.53 L131.33,361.45 L131.62,362.37 L131.91,363.29 L132.20,364.20 L132.49,365.11 L132.79,366.01 L133.08,366.91 L133.37,367.81 L133.66,368.71 L133.96,369.60 L134.25,370.49 L134.54,371.37 L134.83,372.25 L135.12,373.13 L135.42,374.01 L135.71,374.88 L136.00,375.75 L136.29,376.61 L136.59,377.47 L136.88,378.33 L137.17,379.19 L137.46,380.04 L137.75,380.89 L138.05,381.73 L138.34,382.58 L138.63,383.42 L138.92,384.25 L139.22,385.09 L139.51,385.92 L139.80,386.74 L140.09,387.57 L140.38,388.39 L140.68,389.21 L140.97,390.02 L141.26,390.83 L141.55,391.64 L141.85,392.45 L142.14,393.25 L142.43,394.05 L142.72,394.85 L143.02,395.64 L143.31,396.43 L143.60,397.22 L143.89,398.00 L144.18,398.79 L144.48,399.57 L144.77,400.34 L145.06,401.12 L145.35,401.89 L145.65,402.65 L145.94,403.42 L146.23,404.18 L146.52,404.94 L146.81,405.70 L147.11,406.45 L147.40,407.20 L147.69,407.95 L147.98,408.69 L148.28,409.44 L148.57,410.18 L148.86,410.91 L149.15,411.65 L149.44,412.38 L149.74,413.11 L150.03,413.84 L150.32,414.56 L150.61,415.28 L150.91,416.00 L151.20,416.71 L151.49,417.43 L151.78,418.14 L152.07,418.85 L152.37,419.55 L152.66,420.25 L152.95,420.95 L153.24,421.65 L153.54,422.35 L153.83,423.04 L154.12,423.73 L154.41,424.41 L154.70,425.10 L155.00,425.78 L155.29,426.46 L155.58,427.14 L155.87,427.81 L156.17,428.49 L156.46,429.15 L156.75,429.82 L157.04,430.49 L157.33,431.15 L157.63,431.81 L157.92,432.47 L158.21,433.12 L158.50,433.77 L158.80,434.43 L159.09,435.07 L159.38,435.72 L159.67,436.36 L159.96,437.00 L160.26,437.64 L160.55,438.28 L160.84,438.91 L161.13,439.54 L161.43,440.17 L161.72,440.80 L162.01,441.42 L162.30,442.05 L162.59,442.67 L162.89,443.28 L163.18,443.90 L163.47,444.51 L163.76,445.12 L164.06,445.73 L164.35,446.34 L164.64,446.94 L164.93,447.54 L165.22,448.14 L165.52,448.74 L165.81,449.34 L166.10,449.93 L166.39,450.52 L166.69,451.11 L166.98,451.70 L167.27,452.28 L167.56,452.86 L167.85,453.44 L168.15,454.02 L168.44,454.60 L168.73,455.17 L169.02,455.75 L169.32,456.32 L169.61,456.88 L169.90,457.45 L170.19,458.01 L170.48,458.57 L170.78,459.13 L171.07,459.69 L171.36,460.25 L171.65,460.80 L171.95,461.35 L172.24,461.90 L172.53,462.45 L172.82,462.99 L173.11,463.54 L173.41,464.08 L173.70,464.62 L173.99,465.15 L174.28,465.69 L174.58,466.22 L174.87,466.75 L175.16,467.28 L175.45,467.81 L175.74,468.34 L176.04,468.86 L176.33,469.38 L176.62,469.90 L176.91,470.42 L177.21,470.94 L177.50,471.45 L177.79,471.96 L178.08,472.47 L178.37,472.98 L178.67,473.49 L178.96,473.99 L179.25,474.50 L179.54,475.00 L179.84,475.50 L180.13,475.99 L180.42,476.49 L180.71,476.98 L181.01,477.48 L181.30,477.97 L181.59,478.46 L181.88,478.94 L182.17,479.43 L182.47,479.91 L182.76,480.39 L183.05,480.87 L183.34,481.35 L183.64,481.83 L183.93,482.30 L184.22,482.77 L184.51,483.24 L184.80,483.71 L185.10,484.18 L185.39,484.65 L185.68,485.11 L185.97,485.57 L186.27,486.03 L186.56,486.49 L186.85,486.95 L187.14,487.41 L187.43,487.86 L187.73,488.31 L188.02,488.76 L188.31,489.21 L188.60,489.66 L188.90,490.11 L189.19,490.55 L189.48,490.99 L189.77,491.43 L190.06,491.87 L190.36,492.31 L190.65,492.75 L190.94,493.18 L191.23,493.61 L191.53,494.04 L191.82,494.47 L192.11,494.90 L192.40,495.33 L192.69,495.75 L192.99,496.18 L193.28,496.60 L193.57,497.02 L193.86,497.44 L194.16,497.86 L194.45,498.27 L194.74,498.69 L195.03,499.10 L195.32,499.51 L195.62,499.92 L195.91,500.33 L196.20,500.74 L196.49,501.14 L196.79,501.55 L197.08,501.95 L197.37,502.35 L197.66,502.75 L197.95,503.15 L198.25,503.54 L198.54,503.94 L198.83,504.33 L199.12,504.72 L199.42,505.11 L199.71,505.50 L200.00,505.89 L200.50,506.55 L202.61,509.29 L204.72,511.96 L206.83,514.56 L208.93,517.09 L211.04,519.56 L213.15,521.96 L215.26,524.30 L217.37,526.58 L219.48,528.80 L221.59,530.96 L223.70,533.07 L225.80,535.12 L227.91,537.11 L230.02,539.06 L232.13,540.95 L234.24,542.80 L236.35,544.60 L238.46,546.35 L240.57,548.05 L242.67,549.72 L244.78,551.33 L246.89,552.91 L249.00,554.45 L251.11,555.94 L253.22,557.40 L255.33,558.82 L257.43,560.20 L259.54,561.55 L261.65,562.86 L263.76,564.14 L265.87,565.38 L267.98,566.59 L270.09,567.77 L272.20,568.93 L274.30,570.05 L276.41,571.14 L278.52,572.20 L280.63,573.24 L282.74,574.25 L284.85,575.23 L286.96,576.19 L289.07,577.12 L291.17,578.03 L293.28,578.92 L295.39,579.78 L297.50,580.62 L299.61,581.44 L301.72,582.24 L303.83,583.02 L305.93,583.78 L308.04,584.51 L310.15,585.23 L312.26,585.93 L314.37,586.62 L316.48,587.28 L318.59,587.93 L320.70,588.56 L322.80,589.18 L324.91,589.78 L327.02,590.36 L329.13,590.93 L331.24,591.49 L333.35,592.03 L335.46,592.56 L337.57,593.07 L339.67,593.57 L341.78,594.06 L343.89,594.53 L346.00,595.00 L348.11,595.45 L350.22,595.89 L352.33,596.32 L354.43,596.74 L356.54,597.14 L358.65,597.54 L360.76,597.93 L362.87,598.31 L364.98,598.68 L367.09,599.03 L369.20,599.38 L371.30,599.73 L373.41,600.06 L375.52,600.38 L377.63,600.70 L379.74,601.01 L381.85,601.31 L383.96,601.60 L386.07,601.89 L388.17,602.16 L390.28,602.44 L392.39,602.70 L394.50,602.96 L396.61,603.21 L398.72,603.46 L400.83,603.70 L402.93,603.93 L405.04,604.16 L407.15,604.38 L409.26,604.60 L411.37,604.81 L413.48,605.02 L415.59,605.22 L417.70,605.41 L419.80,605.61 L421.91,605.79 L424.02,605.98 L426.13,606.15 L428.24,606.33 L430.35,606.50 L432.46,606.66 L434.57,606.83 L436.67,606.98 L438.78,607.14 L440.89,607.29 L443.00,607.43 L445.11,607.58 L447.22,607.72 L449.33,607.85 L451.43,607.99 L453.54,608.12 L455.65,608.25 L457.76,608.37 L459.87,608.49 L461.98,608.61 L464.09,608.73 L466.20,608.84 L468.30,608.95 L470.41,609.06 L472.52,609.16 L474.63,609.27 L476.74,609.37 L478.85,609.47 L480.96,609.56 L483.07,609.66 L485.17,609.75 L487.28,609.84 L489.39,609.93 L491.50,610.01 L493.61,610.10 L495.72,610.18 L497.83,610.26 L499.93,610.34 L502.04,610.42 L504.15,610.49 L506.26,610.56 L508.37,610.64 L510.48,610.71 L512.59,610.78 L514.70,610.84 L516.80,610.91 L518.91,610.98 L521.02,611.04 L523.13,611.10 L525.24,611.16 L527.35,611.22 L529.46,611.28 L531.57,611.34 L533.67,611.40 L535.78,611.45 L537.89,611.50 L540.00,611.56 L542.11,611.61 L544.22,611.66 L546.33,611.71 L548.43,611.76 L550.54,611.81 L552.65,611.85 L554.76,611.90 L556.87,611.95 L558.98,611.99 L561.09,612.03 L563.20,612.08 L565.30,612.12 L567.41,612.16 L569.52,612.20 L571.63,612.24 L573.74,612.28 L575.85,612.32 L577.96,612.36 L580.07,612.40 L582.17,612.43 L584.28,612.47 L586.39,612.50 L588.50,612.54 L590.61,612.57 L592.72,612.61 L594.83,612.64 L596.93,612.67 L599.04,612.70 L601.15,612.74 L603.26,612.77 L605.37,612.80 L607.48,612.83 L609.59,612.86 L611.70,612.89 L613.80,612.92 L615.91,612.95 L618.02,612.97 L620.13,613.00 L622.24,613.03 L624.35,613.06 L626.46,613.08 L628.57,613.11 L630.67,613.13 L632.78,613.16 L634.89,613.19 L637.00,613.21 L639.11,613.24 L641.22,613.26 L643.33,613.28 L645.43,613.31 L647.54,613.33 L649.65,613.35 L651.76,613.38 L653.87,613.40 L655.98,613.42 L658.09,613.44 L660.20,613.47 L662.30,613.49 L664.41,613.51 L666.52,613.53 L668.63,613.55 L670.74,613.57 L672.85,613.59 L674.96,613.61 L677.07,613.63 L679.17,613.65 L681.28,613.67 L683.39,613.69 L685.50,613.71 L687.61,613.73 L689.72,613.75 L691.83,613.77 L693.93,613.79 L696.04,613.81 L698.15,613.83 L700.26,613.84 L702.37,613.86 L704.48,613.88 L706.59,613.90 L708.70,613.92 L710.80,613.93 L712.91,613.95 L715.02,613.97 L717.13,613.99 L719.24,614.00 L721.35,614.02 L723.46,614.04 L725.57,614.05 L727.67,614.07 L729.78,614.09 L731.89,614.10 L734.00,614.12 L736.11,614.13 L738.22,614.15 L740.33,614.17 L742.43,614.18 L744.54,614.20 L746.65,614.21 L748.76,614.23 L750.87,614.25 L752.98,614.26 L755.09,614.28 L757.20,614.29 L759.30,614.31 L761.41,614.32 L763.52,614.34 L765.63,614.35 L767.74,614.37 L769.85,614.38 L771.96,614.40 L774.07,614.41 L776.17,614.43 L778.28,614.44 L780.39,614.46 L782.50,614.47 L784.61,614.49 L786.72,614.50 L788.83,614.51 L790.93,614.53 L793.04,614.54 L795.15,614.56 L797.26,614.57 L799.37,614.59 L801.48,614.60 L803.59,614.61 L805.70,614.63 L807.80,614.64 L809.91,614.65 L812.02,614.67 L814.13,614.68 L816.24,614.70 L818.35,614.71 L820.46,614.72 L822.57,614.74 L824.67,614.75 L826.78,614.76 L828.89,614.78 L831.00,614.79" stroke="#ff00ff" stroke-width="3.1"/>
<path d="M83.40,132.07 L83.69,134.44 L83.98,136.77 L84.28,139.08 L84.57,141.36 L84.86,143.61 L85.15,145.85 L85.45,148.05 L85.74,150.24 L86.03,152.40 L86.32,154.54 L86.61,156.66 L86.91,158.75 L87.20,160.83 L87.49,162.88 L87.78,164.92 L88.08,166.93 L88.37,168.93 L88.66,170.91 L88.95,172.87 L89.24,174.81 L89.54,176.74 L89.83,178.65 L90.12,180.54 L90.41,182.41 L90.71,184.27 L91.00,186.11 L91.29,187.94 L91.58,189.76 L91.87,191.55 L92.17,193.34 L92.46,195.11 L92.75,196.86 L93.04,198.61 L93.34,200.33 L93.63,202.05 L93.92,203.75 L94.21,205.44 L94.50,207.12 L94.80,208.79 L95.09,210.44 L95.38,212.09 L95.67,213.72 L95.97,215.34 L96.26,216.94 L96.55,218.54 L96.84,220.13 L97.13,221.71 L97.43,223.27 L97.72,224.83 L98.01,226.38 L98.30,227.91 L98.60,229.44 L98.89,230.96 L99.18,232.47 L99.47,233.97 L99.76,235.46 L100.06,236.94 L100.35,238.41 L100.64,239.87 L100.93,241.33 L101.23,242.77 L101.52,244.21 L101.81,245.64 L102.10,247.07 L102.39,248.48 L102.69,249.89 L102.98,251.29 L103.27,252.68 L103.56,254.06 L103.86,255.44 L104.15,256.81 L104.44,258.17 L104.73,259.52 L105.03,260.87 L105.32,262.21 L105.61,263.55 L105.90,264.88 L106.19,266.20 L106.49,267.51 L106.78,268.82 L107.07,270.12 L107.36,271.41 L107.66,272.70 L107.95,273.99 L108.24,275.26 L108.53,276.53 L108.82,277.80 L109.12,279.05 L109.41,280.31 L109.70,281.55 L109.99,282.79 L110.29,284.03 L110.58,285.26 L110.87,286.48 L111.16,287.70 L111.45,288.91 L111.75,290.12 L112.04,291.32 L112.33,292.52 L112.62,293.71 L112.92,294.89 L113.21,296.07 L113.50,297.25 L113.79,298.42 L114.08,299.59 L114.38,300.75 L114.67,301.90 L114.96,303.05 L115.25,304.20 L115.55,305.34 L115.84,306.47 L116.13,307.60 L116.42,308.73 L116.71,309.85 L117.01,310.97 L117.30,312.08 L117.59,313.19 L117.88,314.29 L118.18,315.39 L118.47,316.48 L118.76,317.57 L119.05,318.66 L119.34,319.74 L119.64,320.81 L119.93,321.89 L120.22,322.95 L120.51,324.02 L120.81,325.08 L121.10,326.13 L121.39,327.18 L121.68,328.23 L121.97,329.27 L122.27,330.31 L122.56,331.34 L122.85,332.37 L123.14,333.40 L123.44,334.42 L123.73,335.43 L124.02,336.45 L124.31,337.46 L124.60,338.46 L124.90,339.47 L125.19,340.46 L125.48,341.46 L125.77,342.45 L126.07,343.43 L126.36,344.42 L126.65,345.39 L126.94,346.37 L127.23,347.34 L127.53,348.31 L127.82,349.27 L128.11,350.23 L128.40,351.19 L128.70,352.14 L128.99,353.09 L129.28,354.03 L129.57,354.98 L129.86,355.91 L130.16,356.85 L130.45,357.78 L130.74,358.71 L131.03,359.63 L131.33,360.55 L131.62,361.47 L131.91,362.38 L132.20,363.29 L132.49,364.20 L132.79,365.10 L133.08,366.00 L133.37,366.90 L133.66,367.79 L133.96,368.68 L134.25,369.57 L134.54,370.45 L134.83,371.33 L135.12,372.21 L135.42,373.08 L135.71,373.95 L136.00,374.82 L136.29,375.68 L136.59,376.54 L136.88,377.40 L137.17,378.25 L137.46,379.10 L137.75,379.95 L138.05,380.79 L138.34,381.63 L138.63,382.47 L138.92,383.31 L139.22,384.14 L139.51,384.97 L139.80,385.79 L140.09,386.62 L140.38,387.44 L140.68,388.25 L140.97,389.07 L141.26,389.88 L141.55,390.68 L141.85,391.49 L142.14,392.29 L142.43,393.09 L142.72,393.88 L143.02,394.68 L143.31,395.47 L143.60,396.25 L143.89,397.04 L144.18,397.82 L144.48,398.60 L144.77,399.37 L145.06,400.14 L145.35,400.91 L145.65,401.68 L145.94,402.44 L146.23,403.20 L146.52,403.96 L146.81,404.72 L147.11,405.47 L147.40,406.22 L147.69,406.97 L147.98,407.71 L148.28,408.46 L148.57,409.19 L148.86,409.93 L149.15,410.66 L149.44,411.40 L149.74,412.12 L150.03,412.85 L150.32,413.57 L150.61,414.29 L150.91,415.01 L151.20,415.73 L151.49,416.44 L151.78,417.15 L152.07,417.85 L152.37,418.56 L152.66,419.26 L152.95,419.96 L153.24,420.66 L153.54,421.35 L153.83,422.04 L154.12,422.73 L154.41,423.42 L154.70,424.10 L155.00,424.79 L155.29,425.47 L155.58,426.14 L155.87,426.82 L156.17,427.49 L156.46,428.16 L156.75,428.83 L157.04,429.49 L157.33,430.15 L157.63,430.81 L157.92,431.47 L158.21,432.12 L158.50,432.78 L158.80,433.43 L159.09,434.07 L159.38,434.72 L159.67,435.36 L159.96,436.00 L160.26,436.64 L160.55,437.28 L160.84,437.91 L161.13,438.54 L161.43,439.17 L161.72,439.80 L162.01,440.42 L162.30,441.05 L162.59,441.67 L162.89,442.28 L163.18,442.90 L163.47,443.51 L163.76,444.12 L164.06,444.73 L164.35,445.34 L164.64,445.94 L164.93,446.54 L165.22,447.14 L165.52,447.74 L165.81,448.34 L166.10,448.93 L166.39,449.52 L166.69,450.11 L166.98,450.70 L167.27,451.28 L167.56,451.87 L167.85,452.45 L168.15,453.02 L168.44,453.60 L168.73,454.18 L169.02,454.75 L169.32,455.32 L169.61,455.89 L169.90,456.45 L170.19,457.02 L170.48,457.58 L170.78,458.14 L171.07,458.69 L171.36,459.25 L171.65,459.80 L171.95,460.36 L172.24,460.91 L172.53,461.46 L172.82,462.01 L173.11,462.55 L173.41,463.10 L173.70,463.64 L173.99,464.18 L174.28,464.72 L174.58,465.26 L174.87,465.79 L175.16,466.33 L175.45,466.86 L175.74,467.39 L176.04,467.91 L176.33,468.44 L176.62,468.96 L176.91,469.48 L177.21,470.00 L177.50,470.52 L177.79,471.04 L178.08,471.55 L178.37,472.06 L178.67,472.57 L178.96,473.08 L179.25,473.59 L179.54,474.09 L179.84,474.59 L180.13,475.09 L180.42,475.59 L180.71,476.09 L181.01,476.59 L181.30,477.08 L181.59,477.57 L181.88,478.06 L182.17,478.55 L182.47,479.04 L182.76,479.52 L183.05,480.00 L183.34,480.48 L183.64,480.96 L183.93,481.44 L184.22,481.92 L184.51,482.39 L184.80,482.86 L185.10,483.33 L185.39,483.80 L185.68,484.27 L185.97,484.73 L186.27,485.20 L186.56,485.66 L186.85,486.12 L187.14,486.58 L187.43,487.04 L187.73,487.49 L188.02,487.95 L188.31,488.40 L188.60,488.85 L188.90,489.30 L189.19,489.74 L189.48,490.19 L189.77,490.63 L190.06,491.07 L190.36,491.52 L190.65,491.95 L190.94,492.39 L191.23,492.83 L191.53,493.26 L191.82,493.69 L192.11,494.13 L192.40,494.55 L192.69,494.98 L192.99,495.41 L193.28,495.83 L193.57,496.26 L193.86,496.68 L194.16,497.10 L194.45,497.52 L194.74,497.93 L195.03,498.35 L195.32,498.76 L195.62,499.18 L195.91,499.59 L196.20,500.00 L196.49,500.40 L196.79,500.81 L197.08,501.22 L197.37,501.62 L197.66,502.02 L197.95,502.42 L198.25,502.82 L198.54,503.22 L198.83,503.62 L199.12,504.01 L199.42,504.40 L199.71,504.80 L200.00,505.19 L200.50,505.85 L202.61,508.61 L204.72,511.30 L206.83,513.91 L208.93,516.46 L211.04,518.94 L213.15,521.36 L215.26,523.71 L217.37,526.01 L219.48,528.24 L221.59,530.42 L223.70,532.54 L225.80,534.60 L227.91,536.61 L230.02,538.57 L232.13,540.48 L234.24,542.33 L236.35,544.14 L238.46,545.91 L240.57,547.62 L242.67,549.29 L244.78,550.92 L246.89,552.51 L249.00,554.06 L251.11,555.56 L253.22,557.03 L255.33,558.46 L257.43,559.85 L259.54,561.20 L261.65,562.52 L263.76,563.81 L265.87,565.06 L267.98,566.28 L270.09,567.47 L272.20,568.63 L274.30,569.76 L276.41,570.86 L278.52,571.93 L280.63,572.97 L282.74,573.99 L284.85,574.98 L286.96,575.94 L289.07,576.88 L291.17,577.79 L293.28,578.69 L295.39,579.56 L297.50,580.40 L299.61,581.23 L301.72,582.03 L303.83,582.81 L305.93,583.58 L308.04,584.32 L310.15,585.04 L312.26,585.75 L314.37,586.44 L316.48,587.11 L318.59,587.76 L320.70,588.39 L322.80,589.01 L324.91,589.62 L327.02,590.21 L329.13,590.78 L331.24,591.34 L333.35,591.88 L335.46,592.41 L337.57,592.93 L339.67,593.43 L341.78,593.93 L343.89,594.40 L346.00,594.87 L348.11,595.33 L350.22,595.77 L352.33,596.20 L354.43,596.62 L356.54,597.03 L358.65,597.43 L360.76,597.82 L362.87,598.20 L364.98,598.57 L367.09,598.93 L369.20,599.29 L371.30,599.63 L373.41,599.96 L375.52,600.29 L377.63,600.61 L379.74,600.92 L381.85,601.22 L383.96,601.52 L386.07,601.80 L388.17,602.08 L390.28,602.36 L392.39,602.62 L394.50,602.88 L396.61,603.14 L398.72,603.39 L400.83,603.63 L402.93,603.86 L405.04,604.09 L407.15,604.32 L409.26,604.53 L411.37,604.75 L413.48,604.95 L415.59,605.16 L417.70,605.36 L419.80,605.55 L421.91,605.74 L424.02,605.92 L426.13,606.10 L428.24,606.28 L430.35,606.45 L432.46,606.61 L434.57,606.78 L436.67,606.93 L438.78,607.09 L440.89,607.24 L443.00,607.39 L445.11,607.53 L447.22,607.67 L449.33,607.81 L451.43,607.95 L453.54,608.08 L455.65,608.20 L457.76,608.33 L459.87,608.45 L461.98,608.57 L464.09,608.69 L466.20,608.80 L468.30,608.91 L470.41,609.02 L472.52,609.13 L474.63,609.23 L476.74,609.33 L478.85,609.43 L480.96,609.53 L483.07,609.62 L485.17,609.72 L487.28,609.81 L489.39,609.90 L491.50,609.98 L493.61,610.07 L495.72,610.15 L497.83,610.23 L499.93,610.31 L502.04,610.39 L504.15,610.47 L506.26,610.54 L508.37,610.61 L510.48,610.68 L512.59,610.75 L514.70,610.82 L516.80,610.89 L518.91,610.95 L521.02,611.02 L523.13,611.08 L525.24,611.14 L527.35,611.20 L529.46,611.26 L531.57,611.32 L533.67,611.38 L535.78,611.43 L537.89,611.49 L540.00,611.54 L542.11,611.59 L544.22,611.64 L546.33,611.69 L548.43,611.74 L550.54,611.79 L552.65,611.84 L554.76,611.88 L556.87,611.93 L558.98,611.97 L561.09,612.02 L563.20,612.06 L565.30,612.10 L567.41,612.15 L569.52,612.19 L571.63,612.23 L573.74,612.27 L575.85,612.31 L577.96,612.34 L580.07,612.38 L582.17,612.42 L584.28,612.46 L586.39,612.49 L588.50,612.53 L590.61,612.56 L592.72,612.59 L594.83,612.63 L596.93,612.66 L599.04,612.69 L601.15,612.73 L603.26,612.76 L605.37,612.79 L607.48,612.82 L609.59,612.85 L611.70,612.88 L613.80,612.91 L615.91,612.94 L618.02,612.96 L620.13,612.99 L622.24,613.02 L624.35,613.05 L626.46,613.07 L628.57,613.10 L630.67,613.13 L632.78,613.15 L634.89,613.18 L637.00,613.20 L639.11,613.23 L641.22,613.25 L643.33,613.28 L645.43,613.30 L647.54,613.32 L649.65,613.35 L651.76,613.37 L653.87,613.39 L655.98,613.42 L658.09,613.44 L660.20,613.46 L662.30,613.48 L664.41,613.50 L666.52,613.52 L668.63,613.55 L670.74,613.57 L672.85,613.59 L674.96,613.61 L677.07,613.63 L679.17,613.65 L681.28,613.67 L683.39,613.69 L685.50,613.71 L687.61,613.73 L689.72,613.75 L691.83,613.76 L693.93,613.78 L696.04,613.80 L698.15,613.82 L700.26,613.84 L702.37,613.86 L704.48,613.88 L706.59,613.89 L708.70,613.91 L710.80,613.93 L712.91,613.95 L715.02,613.96 L717.13,613.98 L719.24,614.00 L721.35,614.02 L723.46,614.03 L725.57,614.05 L727.67,614.07 L729.78,614.08 L731.89,614.10 L734.00,614.12 L736.11,614.13 L738.22,614.15 L740.33,614.16 L742.43,614.18 L744.54,614.20 L746.65,614.21 L748.76,614.23 L750.87,614.24 L752.98,614.26 L755.09,614.28 L757.20,614.29 L759.30,614.31 L761.41,614.32 L763.52,614.34 L765.63,614.35 L767.74,614.37 L769.85,614.38 L771.96,614.40 L774.07,614.41 L776.17,614.43 L778.28,614.44 L780.39,614.46 L782.50,614.47 L784.61,614.49 L786.72,614.50 L788.83,614.51 L790.93,614.53 L793.04,614.54 L795.15,614.56 L797.26,614.57 L799.37,614.59 L801.48,614.60 L803.59,614.61 L805.70,614.63 L807.80,614.64 L809.91,614.65 L812.02,614.67 L814.13,614.68 L816.24,614.70 L818.35,614.71 L820.46,614.72 L822.57,614.74 L824.67,614.75 L826.78,614.76 L828.89,614.78 L831.00,614.79" stroke="#ff00ff" stroke-width="3.1"/>
</g>
<rect x="82.0" y="125.4" width="749.5" height="498.1" fill="none" stroke="#000" stroke-width="1.8"/>
<path d="M82.0,623.5V617.3M82.0,125.4V131.20000000000002M231.7,623.5V617.3M231.7,125.4V131.20000000000002M381.7,623.5V617.3M381.7,125.4V131.20000000000002M531.7,623.5V617.3M531.7,125.4V131.20000000000002M679.7,623.5V617.3M679.7,125.4V131.20000000000002M831.5,623.5V617.3M831.5,125.4V131.20000000000002M82.0,612.0H86.8M831.5,612.0H823.3M82.0,517.9H86.8M831.5,517.9H823.3M82.0,419.7H86.8M831.5,419.7H823.3M82.0,321.7H86.8M831.5,321.7H823.3M82.0,223.6H86.8M831.5,223.6H823.3M82.0,125.4H86.8M831.5,125.4H823.3" stroke="#000" stroke-width="1.7" fill="none"/>
<text x="71.50" y="622.60" font-family="Liberation Sans" font-size="25" font-weight="normal" fill="#000" text-anchor="end" stroke="#fff" stroke-width="0.55">0</text>
<text x="71.50" y="526.80" font-family="Liberation Sans" font-size="25" font-weight="normal" fill="#000" text-anchor="end" stroke="#fff" stroke-width="0.55">0.1</text>
<text x="71.50" y="430.10" font-family="Liberation Sans" font-size="25" font-weight="normal" fill="#000" text-anchor="end" stroke="#fff" stroke-width="0.55">0.2</text>
<text x="71.50" y="331.90" font-family="Liberation Sans" font-size="25" font-weight="normal" fill="#000" text-anchor="end" stroke="#fff" stroke-width="0.55">0.3</text>
<text x="71.50" y="234.10" font-family="Liberation Sans" font-size="25" font-weight="normal" fill="#000" text-anchor="end" stroke="#fff" stroke-width="0.55">0.4</text>
<text x="71.50" y="137.30" font-family="Liberation Sans" font-size="25" font-weight="normal" fill="#000" text-anchor="end" stroke="#fff" stroke-width="0.55">0.5</text>
<text x="454.00" y="690.50" font-family="Liberation Sans" font-size="28" font-weight="normal" fill="#000" text-anchor="middle" stroke="#fff" stroke-width="0.55">ξ</text>
<text transform="translate(18.5,379) rotate(-90)" font-family="Liberation Sans" font-size="25" text-anchor="middle">G'(ξ)</text>
<rect x="599.0" y="377.4" width="221.10000000000002" height="190.10000000000002" fill="#fff" stroke="#000" stroke-width="1.7"/>
<path d="M643.3,567.5V564.0M643.3,377.4V380.9M712.5,567.5V564.0M712.5,377.4V380.9M783.8,567.5V564.0M783.8,377.4V380.9M820.1,419.6H815.6M820.1,469.8H815.6M820.1,518.5H815.6" stroke="#000" stroke-width="1.5" fill="none"/>
<g clip-path="url(#ins)" fill="none">
<path d="M590,433.71 L759.6,574.29" stroke="#ff00ff" stroke-width="5.2"/>
<path d="M590,449.88 L739.6,574.32" stroke="#ff00ff" stroke-width="5.2"/>
<path d="M590,477.13 L706.2,574.37" stroke="#ff00ff" stroke-width="5.2"/>
<path d="M626.12,365.42L638.48,375.58M649.02,384.22L661.38,394.38M671.92,403.02L684.28,413.18M694.82,421.83L707.18,431.98M717.72,440.63L730.08,450.78M740.62,459.43L752.98,469.58M763.52,478.23L775.88,488.38M786.42,497.03L798.78,507.18M809.32,515.83L821.68,525.98M832.22,534.63L844.58,544.78" stroke="#0000ff" stroke-width="5.2" stroke-linecap="butt"/>
<path d="M669.21,365.80L681.59,375.93M692.11,384.53L704.49,394.67M715.01,403.27L727.39,413.40M737.91,422.00L750.29,432.13M760.81,440.73L773.19,450.86M783.71,459.46L796.09,469.59M806.61,478.20L818.99,488.33M829.51,496.93L841.89,507.06" stroke="#0000ff" stroke-width="5.2" stroke-linecap="butt"/>
<path d="M695.05,366.28L707.55,376.28M717.95,384.60L730.45,394.60M740.85,402.92L753.35,412.92M763.75,421.24L776.25,431.24M786.65,439.56L799.15,449.56M809.55,457.88L822.05,467.88M832.45,476.20L844.95,486.20" stroke="#0000ff" stroke-width="5.2" stroke-linecap="butt"/>
</g>
<text x="641.80" y="599.00" font-family="Liberation Sans" font-size="25" font-weight="bold" fill="#000" text-anchor="middle">0.6</text>
<text x="711.00" y="599.00" font-family="Liberation Sans" font-size="25" font-weight="bold" fill="#000" text-anchor="middle">0.62</text>
<text x="782.30" y="599.00" font-family="Liberation Sans" font-size="25" font-weight="bold" fill="#000" text-anchor="middle">0.64</text>
<text x="589.00" y="430.30" font-family="Liberation Sans" font-size="25" font-weight="bold" fill="#000" text-anchor="end">0.165</text>
<text x="589.00" y="479.60" font-family="Liberation Sans" font-size="25" font-weight="bold" fill="#000" text-anchor="end">0.16</text>
<text x="589.00" y="527.90" font-family="Liberation Sans" font-size="25" font-weight="bold" fill="#000" text-anchor="end">0.155</text>
<path d="M194,461.8 L590,480.8" stroke="#000" stroke-width="1.3" fill="none"/>
<path d="M223.8,569.9 L245,535.5" stroke="#000" stroke-width="1.3" fill="none"/>
<path d="M257.6,515.2 L234.6,533.6 L244.2,533.2 L245.6,535.8 L247.6,534.4 L249.2,539.6 L251.4,544.4 L255.2,531 L255.8,518.6 Z" fill="#000"/>
<path d="M584.2,185 H625" stroke="#ff00ff" stroke-width="2.1"/>
<path d="M580.6,239 H586.5 M595.9,239 H601.8 M611.2,239 H617.1" stroke="#0000ff" stroke-width="2.2"/>
<text x="262.40" y="18.30" font-family="Liberation Sans" font-size="25" font-weight="normal" fill="#000" text-anchor="start" stroke="#fff" stroke-width="0.55">S</text>
<text x="277.80" y="29.80" font-family="Liberation Sans" font-size="19" font-weight="normal" fill="#000" text-anchor="start" stroke="#fff" stroke-width="0.25">t</text>
<text x="290.00" y="18.30" font-family="Liberation Sans" font-size="25" font-weight="normal" fill="#000" text-anchor="start" stroke="#fff" stroke-width="0.55">=</text>
<text x="315.00" y="18.30" font-family="Liberation Sans" font-size="25" font-weight="normal" fill="#000" text-anchor="start" stroke="#fff" stroke-width="0.55">0.2,</text>
<text x="375.90" y="18.30" font-family="Liberation Serif" font-size="26" font-weight="normal" fill="#000" text-anchor="start" stroke="#fff" stroke-width="0.55">χ</text>
<text x="394.30" y="18.30" font-family="Liberation Sans" font-size="25" font-weight="normal" fill="#000" text-anchor="start" stroke="#fff" stroke-width="0.55">=</text>
<text x="418.00" y="18.30" font-family="Liberation Sans" font-size="25" font-weight="normal" fill="#000" text-anchor="start" stroke="#fff" stroke-width="0.55">0.05,</text>
<text x="482.20" y="18.30" font-family="Liberation Sans" font-size="25" font-weight="normal" fill="#000" text-anchor="start" stroke="#fff" stroke-width="0.55">A</text>
<text x="499.20" y="29.80" font-family="Liberation Sans" font-size="19" font-weight="normal" fill="#000" text-anchor="start" stroke="#fff" stroke-width="0.25">1</text>
<text x="516.80" y="18.30" font-family="Liberation Sans" font-size="25" font-weight="normal" fill="#000" text-anchor="start" stroke="#fff" stroke-width="0.55">=</text>
<text x="543.20" y="18.30" font-family="Liberation Sans" font-size="25" font-weight="normal" fill="#000" text-anchor="start" stroke="#fff" stroke-width="0.55">1,</text>
<text x="571.20" y="18.30" font-family="Liberation Sans" font-size="25" font-weight="normal" fill="#000" text-anchor="start" stroke="#fff" stroke-width="0.55">B</text>
<text x="587.80" y="29.80" font-family="Liberation Sans" font-size="19" font-weight="normal" fill="#000" text-anchor="start" stroke="#fff" stroke-width="0.25">2</text>
<text x="605.20" y="18.30" font-family="Liberation Sans" font-size="25" font-weight="normal" fill="#000" text-anchor="start" stroke="#fff" stroke-width="0.55">=</text>
<text x="631.60" y="18.30" font-family="Liberation Sans" font-size="25" font-weight="normal" fill="#000" text-anchor="start" stroke="#fff" stroke-width="0.55">1,</text>
<text x="264.70" y="57.40" font-family="Liberation Sans" font-size="25" font-weight="normal" fill="#000" text-anchor="start" stroke="#fff" stroke-width="0.55">M</text>
<text x="292.60" y="57.40" font-family="Liberation Sans" font-size="25" font-weight="normal" fill="#000" text-anchor="start" stroke="#fff" stroke-width="0.55">=</text>
<text x="317.00" y="57.40" font-family="Liberation Sans" font-size="25" font-weight="normal" fill="#000" text-anchor="start" stroke="#fff" stroke-width="0.55">0.5,</text>
<text x="367.10" y="57.40" font-family="Liberation Sans" font-size="25" font-weight="normal" fill="#000" text-anchor="start" stroke="#fff" stroke-width="0.55">Pr</text>
<text x="398.00" y="57.40" font-family="Liberation Sans" font-size="25" font-weight="normal" fill="#000" text-anchor="start" stroke="#fff" stroke-width="0.55">=</text>
<text x="421.60" y="57.40" font-family="Liberation Sans" font-size="25" font-weight="normal" fill="#000" text-anchor="start" stroke="#fff" stroke-width="0.55">6,</text>
<text x="453.20" y="57.40" font-family="Liberation Sans" font-size="25" font-weight="normal" fill="#000" text-anchor="start" stroke="#fff" stroke-width="0.55">λ</text>
<text x="466.70" y="57.40" font-family="Liberation Sans" font-size="25" font-weight="normal" fill="#000" text-anchor="start" stroke="#fff" stroke-width="0.55">=</text>
<text x="490.10" y="57.40" font-family="Liberation Sans" font-size="25" font-weight="normal" fill="#000" text-anchor="start" stroke="#fff" stroke-width="0.55">0.5,</text>
<text x="539.60" y="57.40" font-family="Liberation Sans" font-size="25" font-weight="normal" fill="#000" text-anchor="start" stroke="#fff" stroke-width="0.55">E</text>
<text x="557.40" y="68.50" font-family="Liberation Sans" font-size="19" font-weight="normal" fill="#000" text-anchor="start" stroke="#fff" stroke-width="0.25">c</text>
<text x="574.90" y="57.40" font-family="Liberation Sans" font-size="25" font-weight="normal" fill="#000" text-anchor="start" stroke="#fff" stroke-width="0.55">=</text>
<text x="599.60" y="57.40" font-family="Liberation Sans" font-size="25" font-weight="normal" fill="#000" text-anchor="start" stroke="#fff" stroke-width="0.55">0.3,</text>
<text x="359.10" y="95.00" font-family="Liberation Sans" font-size="25" font-weight="normal" fill="#000" text-anchor="start" stroke="#fff" stroke-width="0.55">R</text>
<text x="375.40" y="106.50" font-family="Liberation Sans" font-size="19" font-weight="normal" fill="#000" text-anchor="start" stroke="#fff" stroke-width="0.25">i</text>
<text x="387.30" y="95.00" font-family="Liberation Sans" font-size="25" font-weight="normal" fill="#000" text-anchor="start" stroke="#fff" stroke-width="0.55">=</text>
<text x="412.00" y="95.00" font-family="Liberation Sans" font-size="25" font-weight="normal" fill="#000" text-anchor="start" stroke="#fff" stroke-width="0.55">0.3,</text>
<text x="458.50" y="95.00" font-family="Liberation Sans" font-size="25" font-weight="normal" fill="#000" text-anchor="start" stroke="#fff" stroke-width="0.55">β</text>
<text x="475.60" y="106.50" font-family="Liberation Sans" font-size="19" font-weight="normal" fill="#000" text-anchor="start" stroke="#fff" stroke-width="0.25">H</text>
<text x="488.80" y="95.00" font-family="Liberation Sans" font-size="25" font-weight="normal" fill="#000" text-anchor="start" stroke="#fff" stroke-width="0.55">=</text>
<text x="512.30" y="95.00" font-family="Liberation Sans" font-size="25" font-weight="normal" fill="#000" text-anchor="start" stroke="#fff" stroke-width="0.55">0.3.</text>
<text x="74.40" y="655.30" font-family="Liberation Sans" font-size="25" font-weight="normal" fill="#000" text-anchor="start" stroke="#fff" stroke-width="0.55">0</text>
<text x="225.60" y="655.30" font-family="Liberation Sans" font-size="25" font-weight="normal" fill="#000" text-anchor="start" stroke="#fff" stroke-width="0.55">1</text>
<text x="373.90" y="655.30" font-family="Liberation Sans" font-size="25" font-weight="normal" fill="#000" text-anchor="start" stroke="#fff" stroke-width="0.55">2</text>
<text x="524.90" y="655.30" font-family="Liberation Sans" font-size="25" font-weight="normal" fill="#000" text-anchor="start" stroke="#fff" stroke-width="0.55">3</text>
<text x="675.10" y="655.30" font-family="Liberation Sans" font-size="25" font-weight="normal" fill="#000" text-anchor="start" stroke="#fff" stroke-width="0.55">4</text>
<text x="822.10" y="655.30" font-family="Liberation Sans" font-size="25" font-weight="normal" fill="#000" text-anchor="start" stroke="#fff" stroke-width="0.55">5</text>
<text x="98.90" y="595.00" font-family="Liberation Sans" font-size="25" font-weight="normal" fill="#000" text-anchor="start" stroke="#fff" stroke-width="0.55">β</text>
<text x="113.30" y="606.80" font-family="Liberation Sans" font-size="19" font-weight="normal" fill="#000" text-anchor="start" stroke="#fff" stroke-width="0.25">i</text>
<text x="123.20" y="595.00" font-family="Liberation Sans" font-size="25" font-weight="normal" fill="#000" text-anchor="start" stroke="#fff" stroke-width="0.55">=</text>
<text x="148.50" y="595.00" font-family="Liberation Sans" font-size="25" font-weight="normal" fill="#000" text-anchor="start" stroke="#fff" stroke-width="0.55">0,</text>
<text x="177.10" y="595.00" font-family="Liberation Sans" font-size="25" font-weight="normal" fill="#000" text-anchor="start" stroke="#fff" stroke-width="0.55">1,</text>
<text x="204.00" y="595.00" font-family="Liberation Sans" font-size="25" font-weight="normal" fill="#000" text-anchor="start" stroke="#fff" stroke-width="0.55">2</text>
<text x="633.60" y="179.80" font-family="Liberation Sans" font-size="25" font-weight="normal" fill="#ff00ff" text-anchor="start" stroke="#fff" stroke-width="0.55">Cu-Water</text>
<text x="627.20" y="244.30" font-family="Liberation Sans" font-size="25" font-weight="normal" fill="#0000ff" text-anchor="start" stroke="#fff" stroke-width="0.55">Al</text>
<text x="649.70" y="256.90" font-family="Liberation Sans" font-size="19" font-weight="normal" fill="#0000ff" text-anchor="start" stroke="#fff" stroke-width="0.25">2</text>
<text x="661.30" y="244.30" font-family="Liberation Sans" font-size="25" font-weight="normal" fill="#0000ff" text-anchor="start" stroke="#fff" stroke-width="0.55">O</text>
<text x="678.50" y="256.90" font-family="Liberation Sans" font-size="19" font-weight="normal" fill="#0000ff" text-anchor="start" stroke="#fff" stroke-width="0.25">3</text>
<text x="689.00" y="244.30" font-family="Liberation Sans" font-size="25" font-weight="normal" fill="#0000ff" text-anchor="start" stroke="#fff" stroke-width="0.55">-Water</text>
</svg></body></html>
